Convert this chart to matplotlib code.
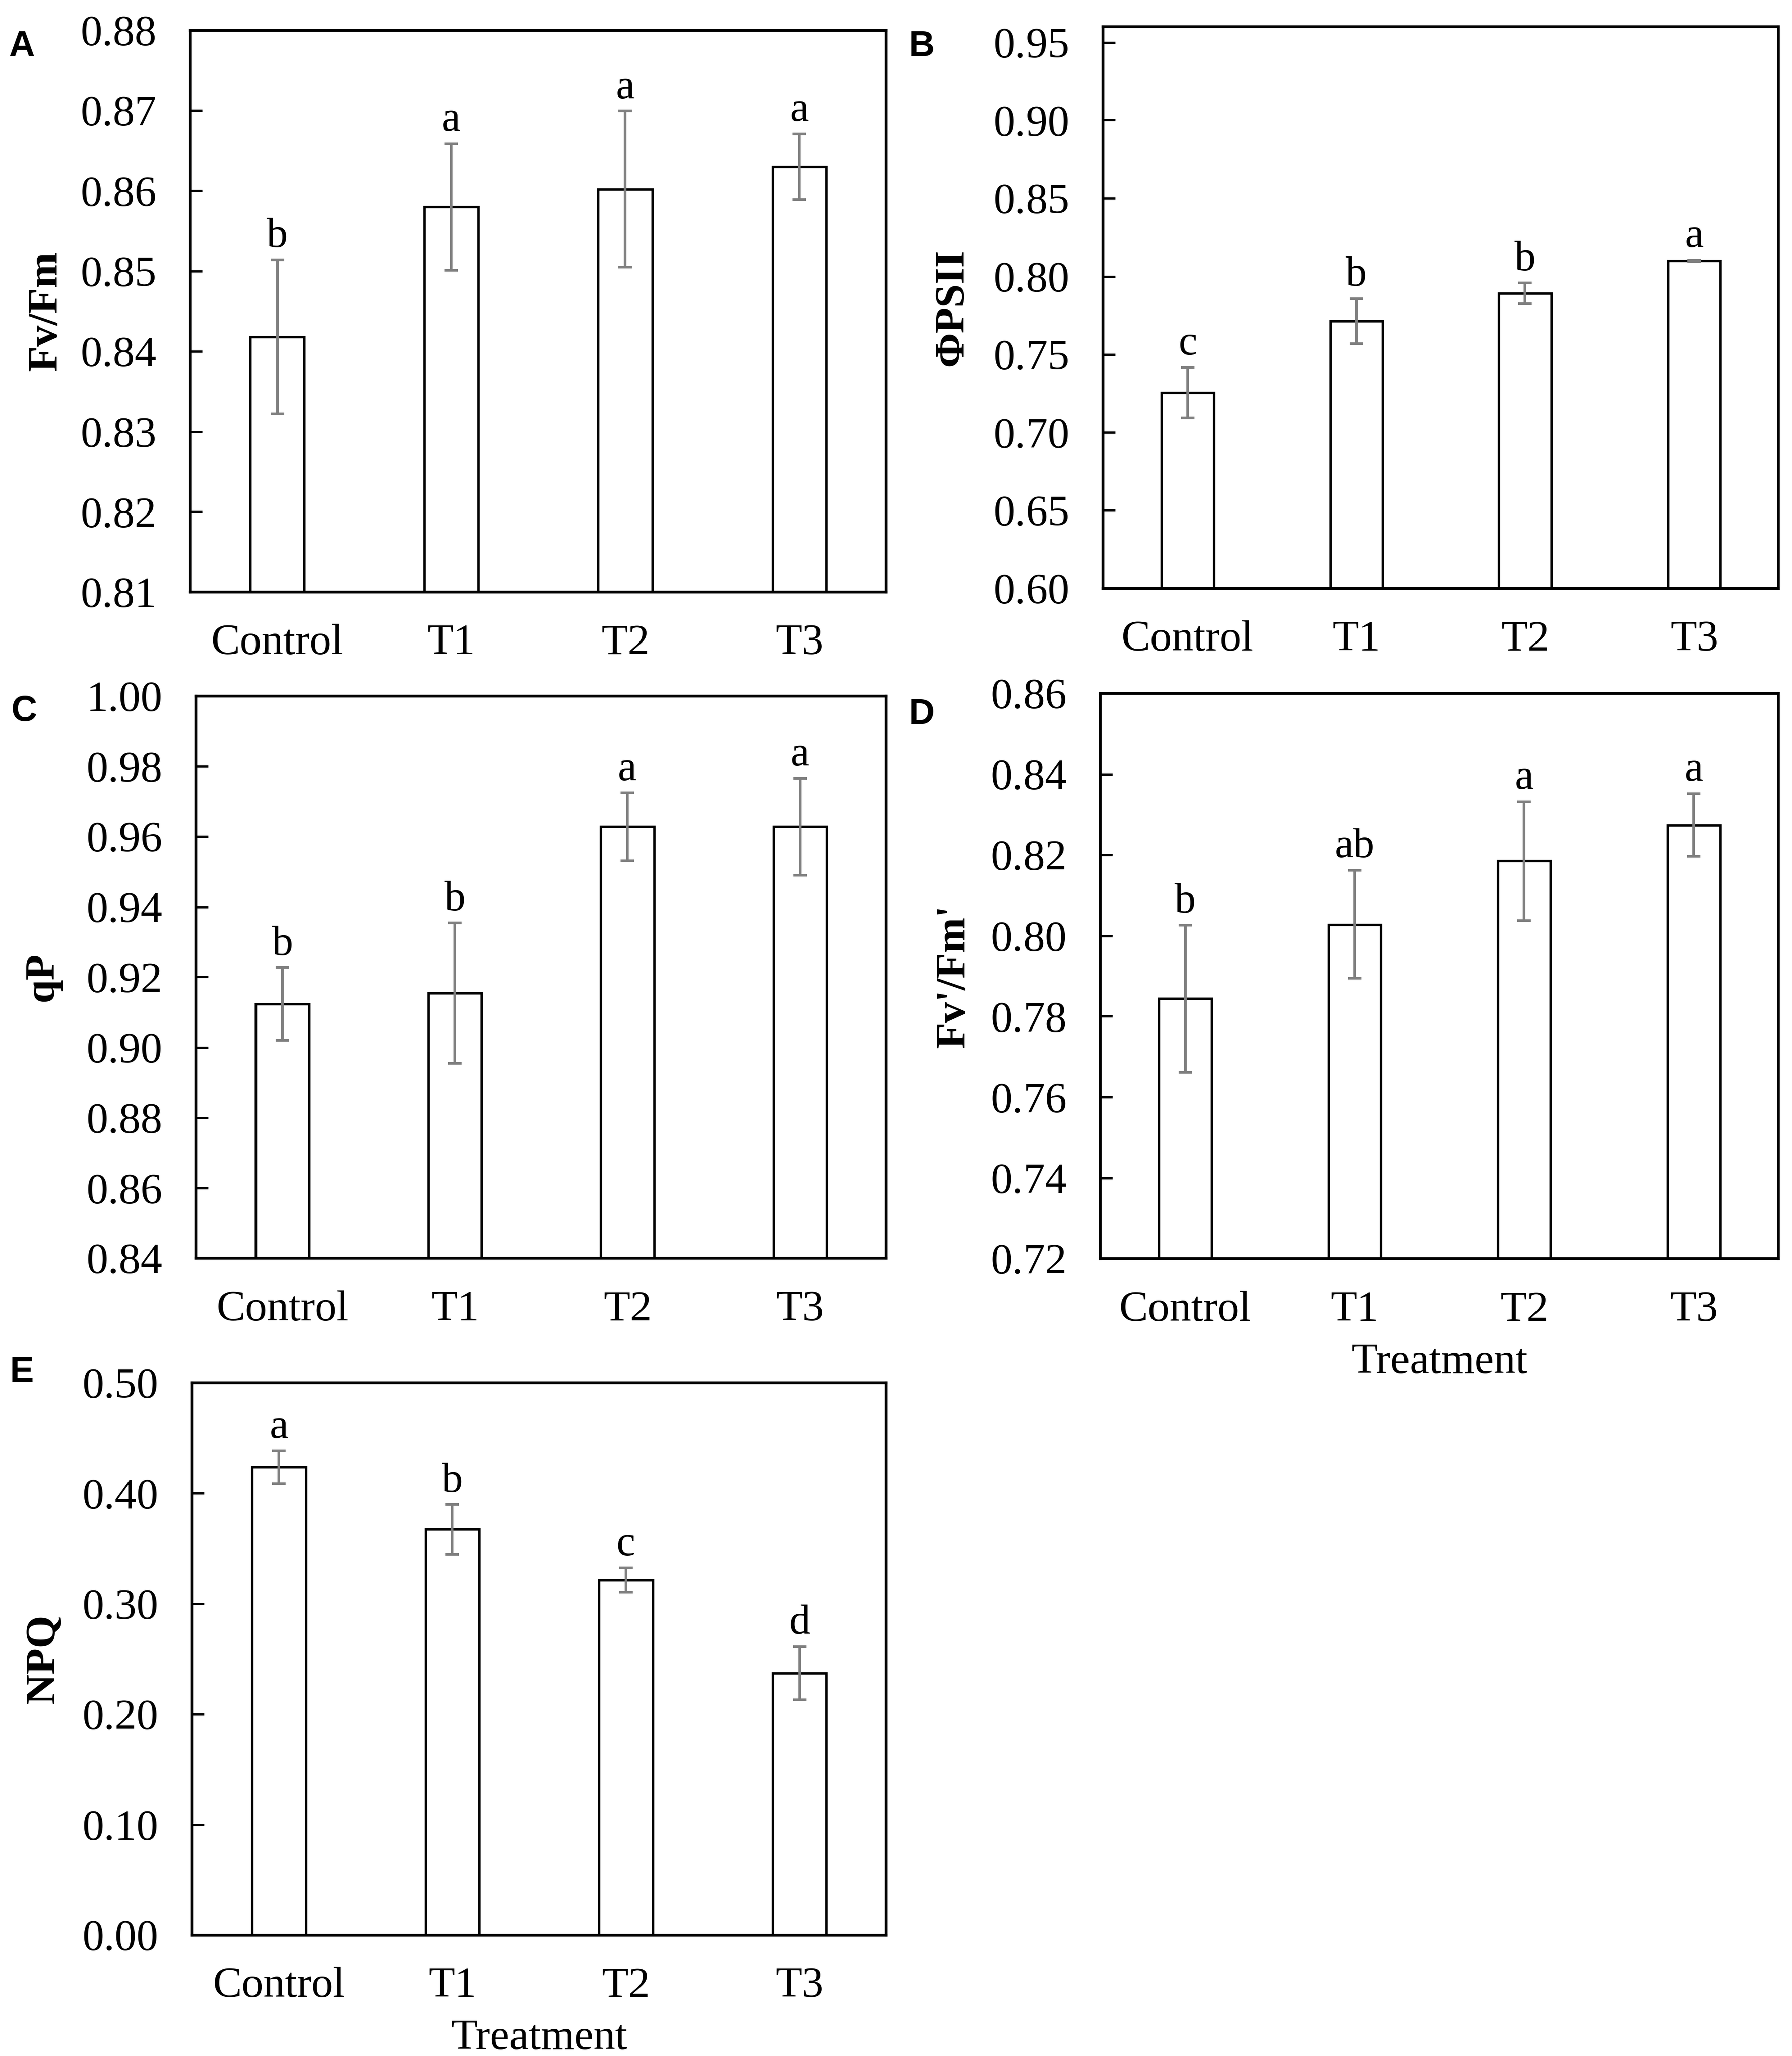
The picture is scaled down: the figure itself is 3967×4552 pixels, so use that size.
import numpy as np
import matplotlib
matplotlib.use("Agg")
import matplotlib.pyplot as plt
from matplotlib.ticker import FormatStrFormatter, MultipleLocator

plt.rcParams['font.family'] = ['Liberation Serif', 'DejaVu Serif']

# ---------------- data ----------------
treatments = ["Control", "T1", "T2", "T3"]

fvfm_mean = [0.8418, 0.8580, 0.8602, 0.8630]
fvfm_err = [0.0096, 0.0079, 0.0097, 0.0041]
fvfm_letters = ["b", "a", "a", "a"]

phipsii_mean = [0.7255, 0.7714, 0.7892, 0.8100]
phipsii_err = [0.0161, 0.0145, 0.0066, 0.0005]
phipsii_letters = ["c", "b", "b", "a"]

qp_mean = [0.9124, 0.9155, 0.9628, 0.9628]
qp_err = [0.0103, 0.0200, 0.0097, 0.0138]
qp_letters = ["b", "b", "a", "a"]

fvpfmp_mean = [0.7844, 0.8028, 0.8185, 0.8274]
fvpfmp_err = [0.0182, 0.0134, 0.0147, 0.0078]
fvpfmp_letters = ["b", "ab", "a", "a"]

npq_mean = [0.4238, 0.3674, 0.3217, 0.2372]
npq_err = [0.0150, 0.0224, 0.0110, 0.0240]
npq_letters = ["a", "b", "c", "d"]

panel_tags = ["A", "B", "C", "D", "E"]
y_titles = ["Fv/Fm", "ΦPSII", "qP", "Fv'/Fm'", "NPQ"]
x_title = "Treatment"

# ---------------- figure ----------------
W, H = 3967, 4552
DPI = 300
fig = plt.figure(figsize=(W / DPI, H / DPI), dpi=DPI)

def frac(l, r, b, t):
    return [l / W, 1 - b / H, (r - l) / W, (b - t) / H]

panels = [
    dict(rect=frac(421, 1962, 1311, 67), mean=fvfm_mean, err=fvfm_err, let=fvfm_letters,
         ylim=(0.81, 0.88), step=0.01, ylabx=-0.180, xlabel=False, tagxy=(19, 66)),
    dict(rect=frac(2442, 3937, 1303, 59), mean=phipsii_mean, err=phipsii_err, let=phipsii_letters,
         ylim=(0.60, 0.96), step=0.05, ylabx=-0.195, xlabel=False, tagxy=(2012, 66)),
    dict(rect=frac(434, 1962, 2786, 1541), mean=qp_mean, err=qp_err, let=qp_letters,
         ylim=(0.84, 1.00), step=0.02, ylabx=-0.195, xlabel=False, tagxy=(25, 1538)),
    dict(rect=frac(2436, 3937, 2787, 1535), mean=fvpfmp_mean, err=fvpfmp_err, let=fvpfmp_letters,
         ylim=(0.72, 0.86), step=0.02, ylabx=-0.188, xlabel=True, tagxy=(2012, 1545)),
    dict(rect=frac(425, 1962, 4284, 3062), mean=npq_mean, err=npq_err, let=npq_letters,
         ylim=(0.0, 0.50), step=0.10, ylabx=-0.186, xlabel=True, tagxy=(22, 3002)),
]

x = np.arange(len(treatments))
FS = 23
for i, p in enumerate(panels):
    ax = fig.add_axes(p["rect"])
    ax.bar(x, p["mean"], width=0.31, color="white", edgecolor="black", linewidth=1.3, zorder=2)
    ax.errorbar(x, p["mean"], yerr=p["err"], fmt="none", ecolor="#7f7f7f",
                elinewidth=1.4, capsize=3.7, capthick=1.4, zorder=3)
    for xi, m, e, lt in zip(x, p["mean"], p["err"], p["let"]):
        ax.annotate(lt, (xi, m + e), xytext=(0, 2), textcoords="offset points",
                    ha="center", va="bottom", fontsize=22.5, zorder=4)
    ax.set_xlim(-0.5, len(treatments) - 0.5)
    lo, hi = p["ylim"]
    ax.set_ylim(lo, hi)
    ax.yaxis.set_major_locator(MultipleLocator(p["step"]))
    ax.yaxis.set_major_formatter(FormatStrFormatter('%.2f'))
    ax.set_xticks(x)
    ax.set_xticklabels(treatments)
    ax.tick_params(axis="y", direction="in", length=6.5, width=1.2, labelsize=FS, pad=18)
    ax.tick_params(axis="x", direction="in", length=4, width=1.2, labelsize=FS, pad=17)
    for sp in ax.spines.values():
        sp.set_linewidth(1.5)
    ax.set_ylabel(y_titles[i], fontsize=22.5, fontweight="bold")
    ax.yaxis.set_label_coords(p["ylabx"], 0.5)
    if p["xlabel"]:
        ax.set_xlabel(x_title, fontsize=FS, labelpad=7)
    tx, ty = p["tagxy"]
    fig.text(tx / W, 1 - ty / H, panel_tags[i], fontsize=19, fontweight="bold",
             family="Liberation Sans", ha="left", va="top")

fig.savefig("out.png", dpi=DPI, facecolor="white")
